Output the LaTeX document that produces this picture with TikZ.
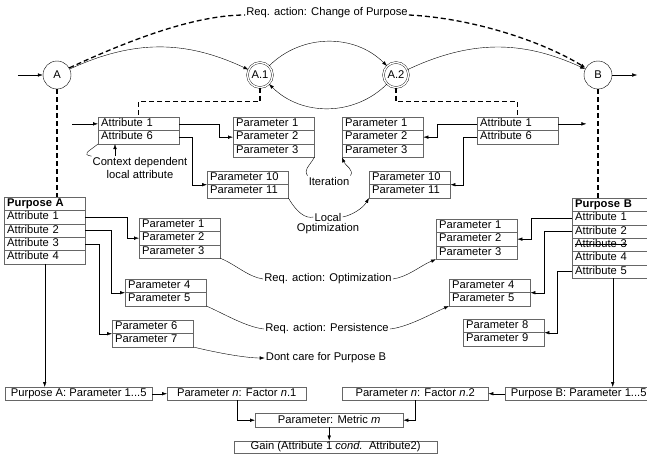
\documentclass[tikz,border=0pt]{standalone}
\usepackage{fontspec}
\setmainfont{Liberation Sans}
\usepackage{tikz}
\usetikzlibrary{shapes,arrows.meta,positioning}
\def\rowh{13.3}
\newlength\strikelen
\newcommand\strikeout[1]{\settowidth{\strikelen}{#1}\rlap{\rule[0.3em]{\strikelen}{0.5pt}}#1}

\begin{document}
\begin{tikzpicture}[x=1pt,y=-1pt,>={Latex[length=5pt,width=3.5pt]},
    font=\fontsize{11.2}{13}\selectfont]
    \tikzstyle{state}=[circle,draw,minimum size=28pt,inner sep=0pt]
    \tikzstyle{substate}=[state,minimum size=25pt,double,double distance=1.4pt]
    \tikzstyle{row}=[draw=black!60,anchor=north west,inner xsep=3pt,inner ysep=0pt,
        text width=75pt,align=left,text height=8.2pt,text depth=2.6pt,minimum height=\rowh pt]
    \tikzstyle{wide}=[draw=black!60,anchor=north west,inner sep=0pt,
        text height=8.2pt,text depth=2.6pt,minimum height=13pt]
    \tikzstyle{link}=[->]
    \tikzstyle{demand}=[->,line width=1.3pt,dash pattern=on 5pt off 3pt]
    \tikzstyle{annot}=[inner sep=1pt]

    \useasboundingbox (0,0) rectangle (647,458);

    % States of the process
    \node[state] (A) at (57,75) {A};
    \node[substate] (A1) at (260,75) {A.1};
    \node[substate] (A2) at (396,75) {A.2};
    \node[state] (B) at (598,75) {B};
    \coordinate[left=25pt of A] (in);
    \coordinate[right=25pt of B] (out);
    \draw[link] (in) -- (A);
    \draw[link] (B) -- (out);
    \draw[link] (A) to[bend left=25] (A1);
    \draw[link] (A1) to[bend left=45] (A2);
    \draw[link] (A2) to[bend left=45] (A1);
    \draw[link] (A2) to[bend left=25] (B);

    % Change of purpose
    \node[annot,anchor=base] (chg) at (327,15) {Req. action: Change of Purpose};
    \draw[demand,-] (A.30) .. controls (140,35) and (200,15) .. (chg.base west);
    \draw[demand] (chg.base east) .. controls (470,18) and (540,40) .. (B.150);

    % Local attributes
    \foreach \name / \word in {1/Attribute 1,2/Attribute 6}
        \node[row] (LA-\name) at (98,117+\rowh*\name-\rowh) {\word};
    \foreach \name / \word in {1/Attribute 1,2/Attribute 6}
        \node[row] (RA-\name) at (477,117+\rowh*\name-\rowh) {\word};
    \coordinate[left=26pt of LA-1.west] (ain);
    \coordinate[right=28pt of RA-1.east] (aout);
    \draw[link] (ain) -- (LA-1.west);
    \draw[link] (RA-1.east) -- (aout);

    % Parameter tables with three rows
    \foreach \tab / \x / \y in {LP/233/117, RP/342/117, QA1/139/218, QB1/436/219}
        \foreach \name in {1,2,3}
            \node[row] (\tab-\name) at (\x,\y+\rowh*\name-\rowh) {Parameter \name};

    % Parameter tables with two rows
    \foreach \tab / \x / \y / \p / \q in {LT/207/171/10/11, RT/369/171/10/11,
        QA4/125/279/4/5, QA6/112/320/6/7, QB4/449/279/4/5, QB8/463/319/8/9} {
        \node[row] (\tab-1) at (\x,\y) {Parameter \p};
        \node[row] (\tab-2) at (\x,\y+\rowh) {Parameter \q};
    }

    % Purposes
    \foreach \name / \word in {0/\textbf{Purpose A},1/Attribute 1,2/Attribute 2,3/Attribute 3,4/Attribute 4}
        \node[row] (PA-\name) at (4,197+\rowh*\name) {\word};
    \foreach \name / \word in {0/\textbf{Purpose B},1/Attribute 1,2/Attribute 2,3/\strikeout{Attribute 3},4/Attribute 4,5/Attribute 5}
        \node[row] (PB-\name) at (572,198+\rowh*\name) {\word};

    % Dashed links from the states
    \draw[demand,-] (A) -- (A |- PA-0.north);
    \draw[demand,-] (A1.south) -- ++(0,14) -| (LA-1.north);
    \draw[demand,-] (A2.south) -- ++(0,14) -| (RA-1.north);
    \draw[demand,-] (B) -- (B |- PB-0.north);

    % Local attribute links
    \draw[link] (LA-1.east) -- ++(40,0) |- (LP-2.west);
    \draw[link] (LA-2.east) -- ++(13,0) |- (LT-1.south west);
    \draw[link] (RA-1.west) -- ++(-40,0) |- (RP-2.east);
    \draw[link] (RA-2.west) -- ++(-14,0) |- (RT-1.south east);

    % Context dependent attribute
    \node[annot,align=center] (ctx) at (140,168) {Context dependent\\local attribute};
    \coordinate[right=17pt of LA-2.south west] (ctxtip);
    \draw[link] (ctxtip |- ctx.north) -- (ctxtip);
    \draw (ctx.north west) .. controls +(-10,-2) and +(-10,8) .. (LA-2.south west);

    % Iteration and local optimization
    \node[annot] (iter) at (329,181) {Iteration};
    \draw (LP-3.south east) .. controls +(-6,10) and +(-4,-6) .. (iter.north west);
    \draw[link] (iter.north east) .. controls +(4,-6) and +(3,8) .. (RP-3.south west);
    \node[annot] (loc) at (328,217) {Local};
    \node[annot,below=0pt of loc] (opt) {Optimization};
    \draw (LT-2.south east) .. controls +(8,14) and +(-8,2) .. (loc.west);
    \draw[link] (loc.east) .. controls +(10,-2) and +(-6,10) .. (RT-2.south west);

    % Purpose links
    \draw[link] (PA-1.east) -- ++(42,0) |- (QA1-2.west);
    \draw[link] (PA-2.east) -- ++(26,0) |- (QA4-1.south west);
    \draw[link] (PA-3.east) -- ++(14,0) |- (QA6-1.south west);
    \draw[link] (PB-1.west) -- ++(-41,0) |- (QB1-2.east);
    \draw[link] (PB-2.west) -- ++(-28,0) |- (QB4-1.south east);
    \draw[link] (PB-5.west) -- ++(-15,0) |- (QB8-1.south east);

    % Required actions
    \node[annot] (optim) at (328,279) {Req. action: Optimization};
    \node[annot] (persist) at (327,329) {Req. action: Persistence};
    \node[annot] (dontcare) at (326,358) {Dont care for Purpose B};
    \draw (QA1-3.south east) .. controls +(15,6) and +(-15,-2) .. (optim.west);
    \draw[link] (optim.east) .. controls +(15,-2) and +(-15,6) .. (QB1-3.south west);
    \draw (QA4-2.south east) .. controls +(18,8) and +(-18,-2) .. (persist.west);
    \draw[link] (persist.east) .. controls +(18,-2) and +(-18,8) .. (QB4-2.south west);
    \draw[link] (QA6-2.south east) .. controls +(20,5) and +(-20,0) .. (dontcare.west);

    % Factors, metric and gain
    \node[wide,minimum width=147pt] (facA) at (5,387) {Purpose A: Parameter 1...5};
    \node[wide,minimum width=139pt] (fac1) at (167,387) {Parameter \textit{n}: Factor \textit{n}.1};
    \node[wide,minimum width=146pt] (fac2) at (342,387) {Parameter \textit{n}: Factor \textit{n}.2};
    \node[wide,minimum width=147pt] (facB) at (505,387) {Purpose B: Parameter 1...5};
    \node[wide,minimum width=148pt,minimum height=14pt] (metric) at (255,413) {Parameter: Metric \textit{m}};
    \node[wide,minimum width=203pt,minimum height=12.5pt] (gain) at (234,440.5) {Gain (Attribute 1 \textit{cond.}\ \ Attribute2)};
    \draw[link] (PA-4.south) -- (PA-4.south |- facA.north);
    \draw[link] (PB-5.south) -- (PB-5.south |- facB.north);
    \draw[link] (facA) -- (fac1);
    \draw[link] (facB) -- (fac2);
    \draw[link] (fac1.south) |- (metric.west);
    \draw[link] (fac2.south) |- (metric.east);
    \draw[link] (metric) -- (metric |- gain.north);

\end{tikzpicture}
\end{document}
